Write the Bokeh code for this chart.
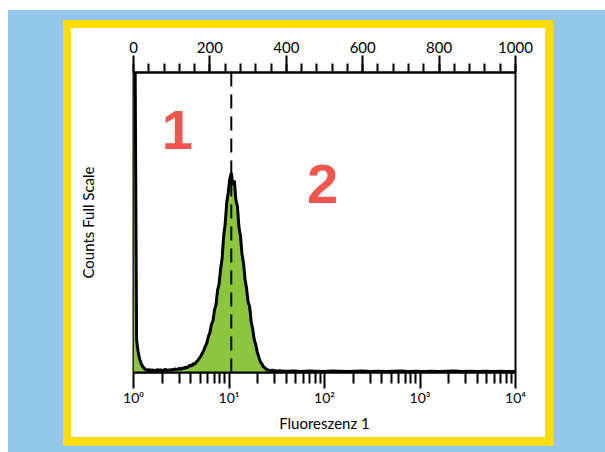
from bokeh.plotting import figure
from bokeh.models import (Range1d, LinearAxis, LinearScale, FixedTicker, Label, Span)
from bokeh.embed import file_html
from bokeh.resources import INLINE

# ---------------- data ----------------
# histogram channels (linear 0..1000 channel scale = 4 log decades)
chan_fine = list(range(0, 400, 4))
counts_fine = [
    160, 110, 11, 7, 4.5, 3.0, 2.0, 1.4, 1.0, 0.7,
    1.0, 0.6, 0.9, 0.5, 0.8, 0.6, 1.0, 0.7, 0.9, 0.5,
    0.8, 1.1, 0.6, 0.9, 0.7, 1.0, 0.8, 1.2, 0.9, 1.1,
    1.4, 1.0, 1.5, 1.3, 1.8, 1.5, 2.0, 2.4, 2.1, 3.0,
    2.7, 3.5, 3.9, 4.7, 5.4, 6.4, 7.3, 8.8, 9.8, 12.0,
    13.3, 16.0, 17.2, 20.8, 22.6, 27.4, 29.5, 34.5, 38.0, 45.5,
    49.5, 56.5, 60.0, 64.5, 66.5, 62.5, 64.0, 57.5, 55.5, 48.5,
    45.5, 39.5, 36.5, 31.0, 28.0, 23.5, 22.0, 17.0, 14.5, 11.0,
    9.3, 6.8, 5.2, 3.6, 2.9, 1.9, 1.6, 1.0, 0.9, 0.7,
    0.6, 0.8, 0.5, 0.6, 0.4, 0.5, 0.6, 0.4, 0.5, 0.4,
]
chan_tail = list(range(400, 1001, 20))
counts_tail = [
    0.4, 0.5, 0.3, 0.5, 0.4, 0.3, 0.5, 0.4, 0.3, 0.4,
    0.5, 0.3, 0.4, 0.3, 0.4, 0.5, 0.3, 0.4, 0.3, 0.4,
    0.3, 0.4, 0.5, 0.3, 0.4, 0.3, 0.4, 0.3, 0.4, 0.3, 0.3,
]
chan = chan_fine + chan_tail
counts = counts_fine + counts_tail

gate_channel = 256
top_ticks = [0, 200, 400, 600, 800, 1000]
top_minor = list(range(0, 1001, 40))
bottom_ticks = [1, 10, 100, 1000, 10000]
bottom_labels = ["10⁰", "10¹", "10²", "10³", "10⁴"]
bottom_minor = [m * d for d in (1, 10, 100, 1000) for m in range(2, 10)]
region_labels = ["1", "2"]
region_chan = [115, 495]
region_count = [81, 63]

BLUE = "#92c6ea"
YELLOW = "#ffdd00"
GREEN = "#8cc63f"
RED = "#f0554f"
FONT = "Lato"

p = figure(width=605, height=452, x_axis_type="log",
           x_range=Range1d(1, 10000), y_range=Range1d(0, 100),
           output_backend="svg", toolbar_location=None,
           min_border_left=133, min_border_right=90,
           min_border_top=72, min_border_bottom=80)
p.extra_x_ranges = {"chan": Range1d(0, 1000)}
p.extra_x_scales = {"chan": LinearScale()}
p.grid.visible = False
p.border_fill_color = None
p.background_fill_color = None
p.outline_line_color = "black"
p.outline_line_width = 2

# page decoration: blue page, yellow frame, white card (CSS layers, top first)
p.styles = {
    "background": (
        "linear-gradient(#ffffff, #ffffff) 71px 28px / 474px 409px no-repeat, "
        f"linear-gradient({YELLOW}, {YELLOW}) 62.7px 20px / 490.6px 425.7px no-repeat, "
        f"linear-gradient({BLUE}, {BLUE}) 8px 10px / 597px 442px no-repeat"
    )
}

# histogram
p.varea(x=chan, y1=0, y2=counts, x_range_name="chan", fill_color=GREEN, fill_alpha=1)
p.line(chan, counts, x_range_name="chan", line_color="black", line_width=3)

p.add_layout(Span(location=gate_channel, dimension="height", x_range_name="chan",
                  line_color="black", line_width=2, line_dash="14 8"))

# bottom log axis
xa = p.xaxis[0]
xa.ticker = FixedTicker(ticks=bottom_ticks, minor_ticks=bottom_minor)
xa.major_label_overrides = dict(zip(bottom_ticks, bottom_labels))
xa.major_tick_out = 16
xa.major_tick_in = 0
xa.minor_tick_out = 11
xa.minor_tick_in = 0
xa.major_label_standoff = 0
xa.major_label_text_font_size = "14px"
xa.axis_label = "Fluoreszenz 1"
xa.axis_label_standoff = 5

# top channel axis
ta = LinearAxis(x_range_name="chan",
                ticker=FixedTicker(ticks=top_ticks, minor_ticks=top_minor))
ta.major_tick_out = 17
ta.major_tick_in = 0
ta.minor_tick_out = 9
ta.minor_tick_in = 0
ta.major_label_standoff = 3
ta.major_label_text_font_size = "15px"
p.add_layout(ta, "above")

for ax in (xa, ta):
    ax.axis_line_width = 2
    ax.axis_line_color = "black"
    ax.major_tick_line_width = 2
    ax.minor_tick_line_width = 2
    ax.major_tick_line_color = "black"
    ax.minor_tick_line_color = "black"
    ax.major_label_text_font = FONT
    ax.major_label_text_color = "black"
    ax.axis_label_text_font = FONT
    ax.axis_label_text_font_size = "15px"
    ax.axis_label_text_font_style = "normal"
    ax.axis_label_text_color = "black"

ya = p.yaxis[0]
ya.ticker = FixedTicker(ticks=[])
ya.axis_line_color = None
ya.major_tick_line_color = None
ya.minor_tick_line_color = None
ya.major_tick_out = 0
ya.major_label_standoff = 0
ya.axis_label = "Counts Full Scale"
ya.axis_label_standoff = 37
ya.axis_label_text_font = FONT
ya.axis_label_text_font_size = "15px"
ya.axis_label_text_font_style = "normal"
ya.axis_label_text_color = "black"

for txt, cx, cy in zip(region_labels, region_chan, region_count):
    p.add_layout(Label(x=cx, y=cy, x_range_name="chan", text=txt,
                       text_font="Liberation Sans", text_font_size="56px",
                       text_font_style="bold", text_color=RED,
                       text_align="center", text_baseline="middle"))

open("out.html", "w").write(file_html(p, INLINE))
